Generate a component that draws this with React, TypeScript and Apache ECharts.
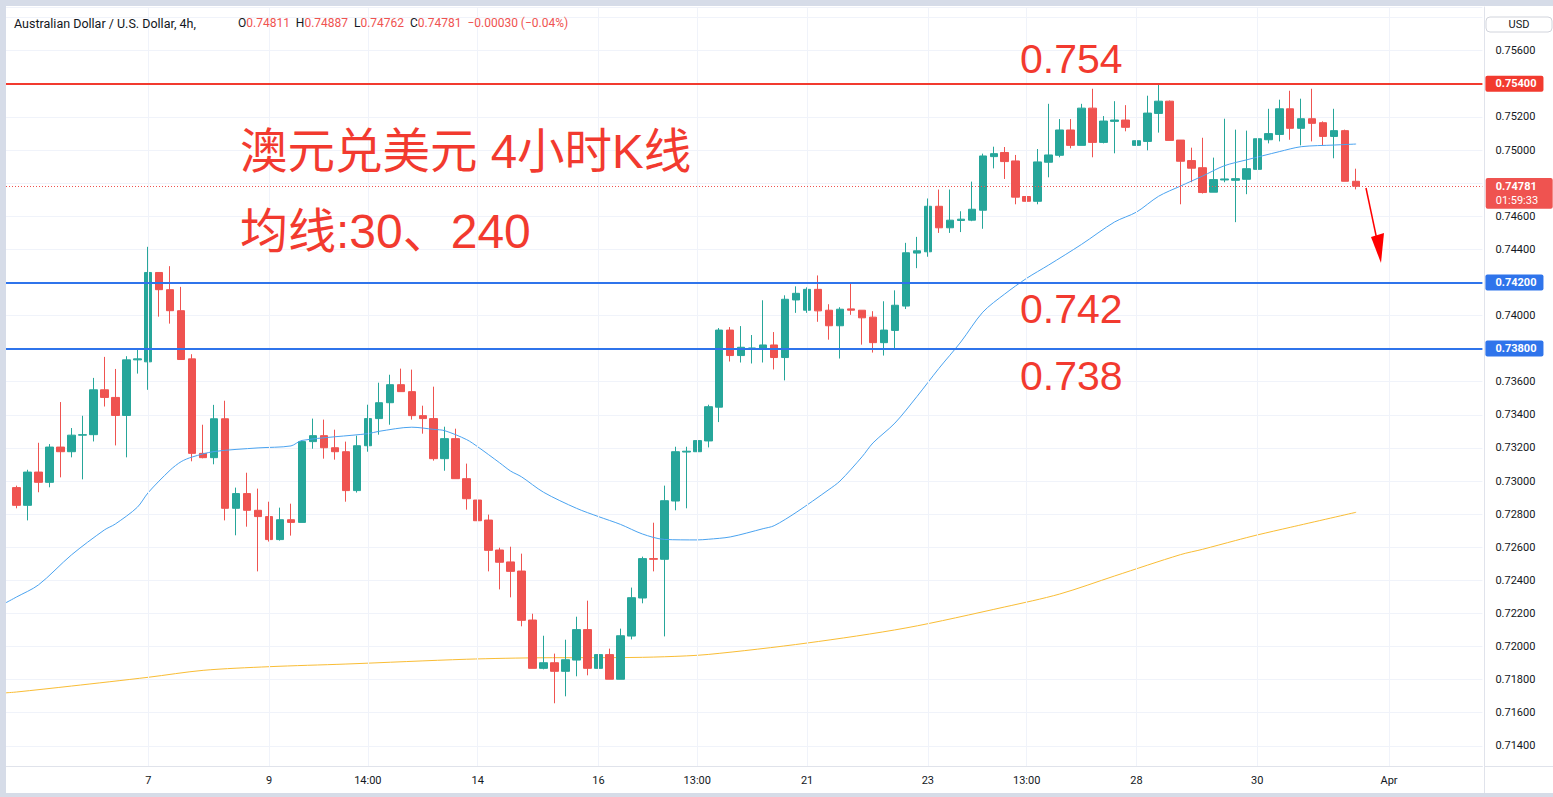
import React, { useEffect, useRef } from "react";
import * as echarts from "echarts";

// ---------- DATA ----------
// bar index k = 0..122 (4h bars)
const OPEN = [
  0.72960, 0.72853, 0.73054, 0.72992, 0.73205, 0.73177, 0.73277, 0.73280, 0.73551, 0.73505,
  0.73396, 0.73732, 0.73720, 0.74260, 0.74156, 0.74029, 0.73738, 0.73167, 0.73141, 0.73376,
  0.72835, 0.72924, 0.72823, 0.72785, 0.72646, 0.72766, 0.72750, 0.73238, 0.73274, 0.73201,
  0.73177, 0.72942, 0.73213, 0.73377, 0.73473, 0.73582, 0.73540, 0.73395, 0.73377, 0.73135,
  0.73256, 0.73014, 0.72885, 0.72764, 0.72583, 0.72511, 0.72456, 0.72160, 0.71868, 0.71902,
  0.71850, 0.71918, 0.72102, 0.71868, 0.71951, 0.71802, 0.72063, 0.72293, 0.72531, 0.72527,
  0.72879, 0.73175, 0.73177, 0.73242, 0.73446, 0.73912, 0.73758, 0.73800, 0.73798, 0.73822,
  0.73746, 0.74094, 0.74032, 0.74158, 0.74032, 0.73938, 0.74040, 0.74032, 0.73990, 0.73836,
  0.73910, 0.74057, 0.74377, 0.74385, 0.74660, 0.74530, 0.74574, 0.74576, 0.74636, 0.74960,
  0.74985, 0.74934, 0.74719, 0.74690, 0.74926, 0.74968, 0.75121, 0.75028, 0.75253, 0.75046,
  0.75173, 0.75181, 0.75028, 0.75052, 0.75221, 0.75295, 0.75060, 0.74936, 0.74893, 0.74745,
  0.74819, 0.74817, 0.74823, 0.74883, 0.75062, 0.75094, 0.75249, 0.75131, 0.75189, 0.75165,
  0.75082, 0.75117, 0.74811,
];
const HIGH = [
  0.72972, 0.73068, 0.73231, 0.73223, 0.73477, 0.73320, 0.73394, 0.73623, 0.73750, 0.73677,
  0.73754, 0.73792, 0.74415, 0.74260, 0.74298, 0.74173, 0.73766, 0.73340, 0.73460, 0.73485,
  0.72960, 0.73050, 0.72954, 0.72875, 0.72839, 0.72863, 0.73244, 0.73377, 0.73371, 0.73310,
  0.73238, 0.73274, 0.73461, 0.73594, 0.73642, 0.73679, 0.73673, 0.73455, 0.73570, 0.73328,
  0.73316, 0.73105, 0.72990, 0.72797, 0.72597, 0.72603, 0.72561, 0.72198, 0.72065, 0.71957,
  0.72041, 0.72180, 0.72277, 0.72017, 0.71987, 0.72108, 0.72356, 0.72543, 0.72748, 0.72972,
  0.73207, 0.73207, 0.73328, 0.73461, 0.73924, 0.73930, 0.73936, 0.73882, 0.74092, 0.73900,
  0.74122, 0.74176, 0.74170, 0.74242, 0.74068, 0.74050, 0.74200, 0.74032, 0.74026, 0.74086,
  0.74152, 0.74439, 0.74475, 0.74707, 0.74761, 0.74761, 0.74630, 0.74809, 0.74978, 0.75020,
  0.75018, 0.74970, 0.74881, 0.75006, 0.75279, 0.75187, 0.75187, 0.75279, 0.75370, 0.75205,
  0.75295, 0.75271, 0.75235, 0.75328, 0.75398, 0.75299, 0.75060, 0.75014, 0.75074, 0.74954,
  0.75189, 0.75123, 0.75117, 0.75171, 0.75249, 0.75304, 0.75358, 0.75310, 0.75370, 0.75173,
  0.75249, 0.75123, 0.74887,
];
const LOW = [
  0.72835, 0.72762, 0.72932, 0.72962, 0.73022, 0.73143, 0.73010, 0.73239, 0.73450, 0.73215,
  0.73143, 0.73649, 0.73551, 0.73993, 0.73951, 0.73734, 0.73119, 0.73137, 0.73101, 0.72762,
  0.72672, 0.72724, 0.72454, 0.72634, 0.72640, 0.72670, 0.72750, 0.73195, 0.73135, 0.73129,
  0.72875, 0.72930, 0.73177, 0.73280, 0.73340, 0.73540, 0.73371, 0.73286, 0.73123, 0.73062,
  0.73014, 0.72827, 0.72718, 0.72454, 0.72345, 0.72297, 0.72122, 0.71868, 0.71862, 0.71657,
  0.71699, 0.71820, 0.71826, 0.71753, 0.71802, 0.71802, 0.72043, 0.72261, 0.72454, 0.72061,
  0.72823, 0.72835, 0.73022, 0.73203, 0.73356, 0.73722, 0.73716, 0.73710, 0.73716, 0.73674,
  0.73608, 0.74016, 0.74016, 0.73962, 0.73854, 0.73740, 0.74004, 0.73824, 0.73776, 0.73758,
  0.73802, 0.74039, 0.74286, 0.74355, 0.74499, 0.74499, 0.74504, 0.74570, 0.74524, 0.74889,
  0.74825, 0.74672, 0.74690, 0.74672, 0.74835, 0.74956, 0.75010, 0.75028, 0.74956, 0.75040,
  0.74980, 0.75113, 0.75010, 0.74998, 0.75105, 0.75058, 0.74672, 0.74805, 0.74737, 0.74745,
  0.74805, 0.74564, 0.74733, 0.74847, 0.75040, 0.75052, 0.75062, 0.75028, 0.75052, 0.75028,
  0.74950, 0.74811, 0.74762,
];
const CLOSE = [
  0.72853, 0.73054, 0.72992, 0.73205, 0.73177, 0.73277, 0.73280, 0.73551, 0.73505, 0.73396,
  0.73732, 0.73738, 0.74260, 0.74156, 0.74029, 0.73734, 0.73167, 0.73141, 0.73376, 0.72835,
  0.72924, 0.72823, 0.72785, 0.72646, 0.72766, 0.72750, 0.73238, 0.73274, 0.73201, 0.73177,
  0.72942, 0.73213, 0.73377, 0.73473, 0.73582, 0.73540, 0.73395, 0.73377, 0.73135, 0.73256,
  0.73014, 0.72893, 0.72760, 0.72581, 0.72509, 0.72454, 0.72158, 0.71868, 0.71902, 0.71850,
  0.71920, 0.72102, 0.71868, 0.71951, 0.71802, 0.72065, 0.72295, 0.72531, 0.72527, 0.72881,
  0.73177, 0.73180, 0.73244, 0.73449, 0.73912, 0.73758, 0.73808, 0.73804, 0.73822, 0.73746,
  0.74098, 0.74134, 0.74158, 0.74028, 0.73938, 0.74038, 0.74032, 0.73986, 0.73836, 0.73912,
  0.74062, 0.74379, 0.74391, 0.74660, 0.74530, 0.74576, 0.74582, 0.74642, 0.74964, 0.74978,
  0.74930, 0.74715, 0.74690, 0.74928, 0.74970, 0.75121, 0.75028, 0.75253, 0.75046, 0.75175,
  0.75181, 0.75137, 0.75056, 0.75223, 0.75295, 0.75058, 0.74932, 0.74890, 0.74743, 0.74821,
  0.74825, 0.74827, 0.74887, 0.75068, 0.75099, 0.75249, 0.75131, 0.75189, 0.75161, 0.75082,
  0.75117, 0.74811, 0.74781,
];

// moving averages, read at sample bars: [barIndex, value]
const MA30_POINTS = [
  [-1, 0.72263], [0, 0.72299], [2, 0.72372], [5, 0.72553], [8, 0.72704], [9, 0.7274],
  [11, 0.72841], [12, 0.7293], [14, 0.73066], [15, 0.73117], [16, 0.73145], [18, 0.73178],
  [22, 0.732], [25, 0.73212], [26, 0.73245], [32, 0.73286], [33, 0.733], [36, 0.73325],
  [38, 0.73312], [39, 0.73304], [41, 0.7325], [42, 0.73207], [44, 0.7311], [45, 0.7306],
  [46, 0.73025], [48, 0.72932], [51, 0.72835], [53, 0.72785], [55, 0.72738], [57, 0.7268],
  [59, 0.72647], [62, 0.72644], [63, 0.72648], [65, 0.72662], [68, 0.72712], [69, 0.7273],
  [71, 0.7281], [74, 0.72949], [75, 0.73], [77, 0.73146], [78, 0.7323], [80, 0.7335],
  [82, 0.7351], [84, 0.7368], [86, 0.7384], [88, 0.7402], [90, 0.7413], [92, 0.74225],
  [94, 0.74305], [97, 0.7443], [100, 0.74565], [102, 0.74625], [104, 0.7472], [106, 0.74782],
  [108, 0.74842], [110, 0.74905], [112, 0.7494], [115, 0.7499], [117, 0.7502], [120, 0.7503],
  [122, 0.75036],
];
const MA240_POINTS = [
  [-1, 0.7172], [0, 0.71725], [5, 0.71761], [12, 0.71814], [17, 0.71856], [23, 0.71878],
  [30, 0.71894], [41, 0.71923], [48, 0.71932], [55, 0.71933], [59, 0.71938], [63, 0.71952],
  [72, 0.72021], [81, 0.72112], [90, 0.72239], [95, 0.72317], [100, 0.72426], [106, 0.72555],
  [108, 0.72587], [111, 0.7264], [113, 0.72674], [116, 0.7272], [122, 0.72811],
];

const TICK_BARS = [12, 23, 32, 42, 53, 62, 72, 83, 92, 102, 113, 125];
const TICK_LABELS = ["7", "9", "14:00", "14", "16", "13:00", "21", "23", "13:00", "28", "30", "Apr"];

const RESIST = 0.754;
const SUPPORTS = [0.742, 0.738];
const LAST_PRICE = 0.74781;
const HEADER_OHLC = ["0.74811", "0.74887", "0.74762", "0.74781"];
const HEADER_CHANGE = "−0.00030 (−0.04%)";

// ---------- STYLE ----------
const FONT = 'Roboto, "Noto Sans", sans-serif';
const BIG_FONT = '"Liberation Sans", Arial, "Noto Sans CJK SC", sans-serif';
const UP = "#26a69a";
const DOWN = "#ef5350";
const LINE_RED = "#f23a2f";
const LINE_BLUE = "#2f74eb";
const TXT_RED = "#f23a2f";
const FRAME = "#d6dce8";

const FIRST_K = -1;
const LAST_K = 133;
const BAR_W = 11.012;

export default function App() {
  const ref = useRef<HTMLDivElement>(null);

  useEffect(() => {
    const el = ref.current!;
    const chart = echarts.init(el, null, { renderer: "svg" });

    const nCat = LAST_K - FIRST_K + 1;
    const categories: string[] = [];
    for (let k = FIRST_K; k <= LAST_K; k++) categories.push(String(k));
    const toJ = (k: number) => k - FIRST_K;
    const labelMap = new Map<number, string>();
    TICK_BARS.forEach((k, i) => labelMap.set(toJ(k), TICK_LABELS[i]));

    const candles = OPEN.map((o, k) => [toJ(k), o, CLOSE[k], LOW[k], HIGH[k]]);
    const ma30 = MA30_POINTS.map(([k, v]) => [toJ(k), v]);
    const ma240 = MA240_POINTS.map(([k, v]) => [toJ(k), v]);

    const gridTop = 7;
    const gridBottomY = 766;
    const gridLeft = 12.3 - (0 - FIRST_K + 0.5) * BAR_W;
    const yMax = 0.754 + (83.8 - gridTop) / 16550;
    const yMin = 0.754 - (gridBottomY - 83.8) / 16550;

    const levelLabel = (v: number, bg: string) => ({
      show: true,
      position: "end",
      distance: 3,
      formatter: v.toFixed(5),
      backgroundColor: bg,
      color: "#ffffff",
      fontWeight: "bold",
      fontSize: 11,
      fontFamily: FONT,
      padding: [3, 7, 2, 10],
      borderRadius: 2,
    });

    const option: any = {
      animation: false,
      backgroundColor: "#ffffff",
      grid: {
        left: gridLeft,
        top: gridTop,
        width: nCat * BAR_W,
        height: gridBottomY - gridTop,
        containLabel: false,
      },
      xAxis: {
        type: "category",
        data: categories,
        boundaryGap: true,
        axisLine: { show: true, lineStyle: { color: "#e0e3eb" } },
        axisTick: { show: false },
        splitLine: { show: false },
        axisLabel: {
          interval: (i: number) => labelMap.has(i),
          formatter: (_v: string, i: number) => labelMap.get(i) ?? "",
          color: "#131722",
          fontSize: 11,
          fontFamily: FONT,
          margin: 9,
        },
      },
      yAxis: {
        type: "value",
        position: "right",
        offset: 2,
        min: yMin,
        max: yMax,
        splitNumber: 23,
        axisLine: { show: true, lineStyle: { color: "#e0e3eb" } },
        axisTick: { show: false },
        splitLine: { show: true, lineStyle: { color: "#f0f3fa", width: 1 } },
        axisLabel: {
          color: "#131722",
          fontSize: 11,
          fontFamily: FONT,
          margin: 11,
          showMinLabel: false,
          showMaxLabel: false,
          formatter: (v: number) => (v > 0.757 ? "" : v.toFixed(5)),
        },
      },
      series: [
        {
          name: "MA240",
          type: "line",
          data: ma240,
          z: 1,
          smooth: 0.3,
          showSymbol: false,
          lineStyle: { color: "#f9bd35", width: 1 },
          markLine: {
            silent: true,
            symbol: ["none", "none"],
            label: { show: false },
            lineStyle: { color: "#f0f3fa", width: 1, type: "solid" },
            data: TICK_BARS.map((k) => ({ xAxis: toJ(k) })),
          },
        },
        {
          name: "K",
          type: "candlestick",
          data: candles,
          encode: { x: 0, y: [1, 2, 3, 4] },
          z: 2,
          barWidth: 8,
          itemStyle: {
            color: UP,
            color0: DOWN,
            borderColor: UP,
            borderColor0: DOWN,
            borderWidth: 1,
          },
        },
        {
          name: "MA30",
          type: "line",
          data: ma30,
          z: 3,
          smooth: 0.3,
          showSymbol: false,
          lineStyle: { color: "#4aa3f0", width: 1 },
          markLine: {
            silent: true,
            precision: 5,
            symbol: ["none", "none"],
            data: [
              {
                yAxis: LAST_PRICE,
                lineStyle: { color: DOWN, width: 1, type: [1, 2] },
                label: { show: false },
              },
              {
                yAxis: RESIST,
                lineStyle: { color: LINE_RED, width: 2, type: "solid" },
                label: levelLabel(RESIST, LINE_RED),
              },
              ...SUPPORTS.map((v) => ({
                yAxis: v,
                lineStyle: { color: LINE_BLUE, width: 2, type: "solid" },
                label: levelLabel(v, LINE_BLUE),
              })),
            ],
          },
        },
      ],
    };

    chart.setOption(option);

    const py = chart.convertToPixel({ yAxisIndex: 0 }, LAST_PRICE) as number;

    const headerRich =
      `{k|O}{v|${HEADER_OHLC[0]}}  {k|H}{v|${HEADER_OHLC[1]}}  {k|L}{v|${HEADER_OHLC[2]}}  {k|C}{v|${HEADER_OHLC[3]}}  {v|${HEADER_CHANGE}}`;

    const graphics: any[] = [
      // header
      {
        type: "text", x: 14, y: 23, z: 50,
        style: { text: "Australian Dollar / U.S. Dollar, 4h,", fill: "#131722", fontSize: 12.5, fontFamily: FONT, textVerticalAlign: "middle" },
      },
      {
        type: "text", x: 238, y: 23, z: 50,
        style: {
          text: headerRich, textVerticalAlign: "middle", fontSize: 12, fontFamily: FONT,
          rich: {
            k: { fill: "#131722", fontSize: 12, fontFamily: FONT },
            v: { fill: DOWN, fontSize: 12, fontFamily: FONT },
          },
        },
      },
      // annotations
      {
        type: "text", x: 240, y: 151, z: 50,
        style: { text: "澳元兑美元 4小时K线", fill: TXT_RED, fontSize: 47.5, fontFamily: BIG_FONT, textVerticalAlign: "middle" },
      },
      {
        type: "text", x: 240, y: 231, z: 50,
        style: { text: "均线:30、240", fill: TXT_RED, fontSize: 48, fontFamily: BIG_FONT, textVerticalAlign: "middle" },
      },
      {
        type: "text", x: 1020, y: 59, z: 50,
        style: { text: "0.754", fill: TXT_RED, fontSize: 41, fontFamily: BIG_FONT, textVerticalAlign: "middle" },
      },
      {
        type: "text", x: 1020, y: 309, z: 50,
        style: { text: "0.742", fill: TXT_RED, fontSize: 41, fontFamily: BIG_FONT, textVerticalAlign: "middle" },
      },
      {
        type: "text", x: 1020, y: 376, z: 50,
        style: { text: "0.738", fill: TXT_RED, fontSize: 41, fontFamily: BIG_FONT, textVerticalAlign: "middle" },
      },
      // arrow
      {
        type: "line", z: 50,
        shape: { x1: 1366, y1: 188, x2: 1377, y2: 240 },
        style: { stroke: "#ff0000", lineWidth: 1.5 },
      },
      {
        type: "polygon", z: 50,
        shape: { points: [[1371, 237], [1384, 233], [1381, 263]] },
        style: { fill: "#ff0000" },
      },
      // current price box
      {
        type: "rect", z: 60,
        shape: { x: 1485.7, y: py - 8.3, width: 67, height: 30.7, r: 2 },
        style: { fill: DOWN },
      },
      {
        type: "text", x: 1495.7, y: py, z: 61,
        style: { text: LAST_PRICE.toFixed(5), fill: "#ffffff", fontSize: 11, fontWeight: "bold", fontFamily: FONT, textVerticalAlign: "middle" },
      },
      {
        type: "text", x: 1495.7, y: py + 14, z: 61,
        style: { text: "01:59:33", fill: "#ffffff", fontSize: 11, fontFamily: FONT, textVerticalAlign: "middle" },
      },
      // USD box
      {
        type: "rect", z: 60,
        shape: { x: 1486, y: 17, width: 66, height: 15, r: 4 },
        style: { fill: "#ffffff", stroke: "#d1d4dc", lineWidth: 1 },
      },
      {
        type: "text", x: 1519, y: 24.5, z: 61,
        style: { text: "USD", fill: "#131722", fontSize: 11, fontFamily: FONT, textAlign: "center", textVerticalAlign: "middle" },
      },
      // separators in the axis corners
      {
        type: "line", z: 40,
        shape: { x1: 1484.5, y1: 766, x2: 1484.5, y2: 793 },
        style: { stroke: "#e0e3eb", lineWidth: 1 },
      },
      {
        type: "line", z: 40,
        shape: { x1: 1484, y1: 766.5, x2: 1553, y2: 766.5 },
        style: { stroke: "#e0e3eb", lineWidth: 1 },
      },
      // frame
      { type: "rect", z: 100, shape: { x: 0, y: 0, width: 6, height: 797 }, style: { fill: FRAME } },
      { type: "rect", z: 100, shape: { x: 0, y: 0, width: 1553, height: 6 }, style: { fill: FRAME } },
      { type: "rect", z: 100, shape: { x: 0, y: 793, width: 1553, height: 4 }, style: { fill: FRAME } },
    ];

    chart.setOption({ graphic: graphics });

    return () => {
      chart.dispose();
    };
  }, []);

  return (
    <div
      ref={ref}
      style={{ position: "fixed", left: 0, top: 0, width: 1553, height: 797, background: "#ffffff" }}
    />
  );
}
